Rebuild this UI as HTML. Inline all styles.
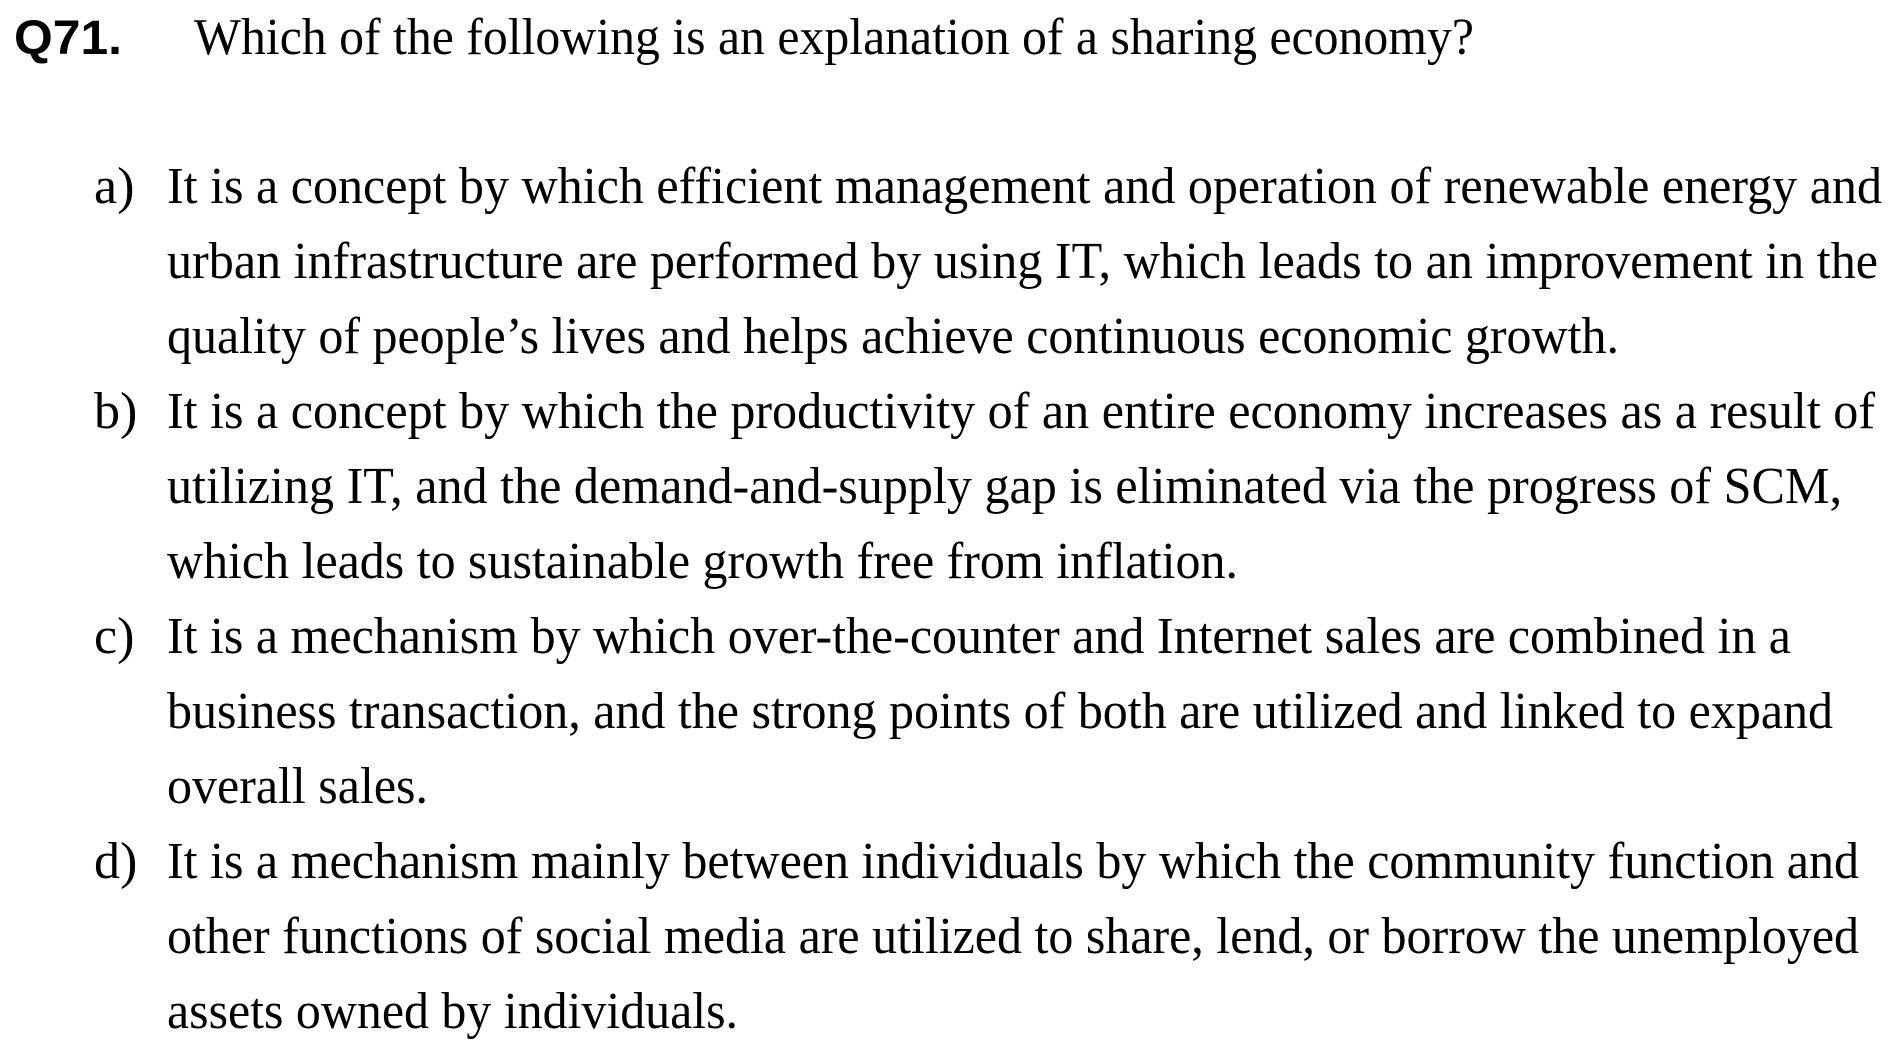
<!DOCTYPE html>
<html><head><meta charset="utf-8"><style>
html,body{margin:0;padding:0;background:#fff;width:1898px;height:1054px;overflow:hidden}
svg text{font-family:"Liberation Serif",serif;fill:#000}
</style></head><body>
<svg width="1898" height="1054" viewBox="0 0 1898 1054">
<text x="14" y="54" font-family="Liberation Sans, sans-serif" font-weight="bold" font-size="48" textLength="108" lengthAdjust="spacingAndGlyphs" style="font-family:'Liberation Sans',sans-serif">Q71.</text>
<text x="194" y="54" font-size="52" textLength="1280" lengthAdjust="spacingAndGlyphs">Which of the following is an explanation of a sharing economy?</text>
<g>
<text x="94" y="203" font-size="52">a)</text>
<text x="167" y="203" font-size="52" textLength="1715" lengthAdjust="spacingAndGlyphs">It is a concept by which efficient management and operation of renewable energy and</text>
<text x="167" y="278" font-size="52" textLength="1711" lengthAdjust="spacingAndGlyphs">urban infrastructure are performed by using IT, which leads to an improvement in the</text>
<text x="167" y="353" font-size="52" textLength="1452" lengthAdjust="spacingAndGlyphs">quality of people’s lives and helps achieve continuous economic growth.</text>
</g>
<g>
<text x="94" y="428" font-size="52">b)</text>
<text x="167" y="428" font-size="52" textLength="1708" lengthAdjust="spacingAndGlyphs">It is a concept by which the productivity of an entire economy increases as a result of</text>
<text x="167" y="503" font-size="52" textLength="1675" lengthAdjust="spacingAndGlyphs">utilizing IT, and the demand-and-supply gap is eliminated via the progress of SCM,</text>
<text x="167" y="578" font-size="52" textLength="1071" lengthAdjust="spacingAndGlyphs">which leads to sustainable growth free from inflation.</text>
</g>
<g>
<text x="94" y="653" font-size="52">c)</text>
<text x="167" y="653" font-size="52" textLength="1624" lengthAdjust="spacingAndGlyphs">It is a mechanism by which over-the-counter and Internet sales are combined in a</text>
<text x="167" y="728" font-size="52" textLength="1666" lengthAdjust="spacingAndGlyphs">business transaction, and the strong points of both are utilized and linked to expand</text>
<text x="167" y="803" font-size="52" textLength="261" lengthAdjust="spacingAndGlyphs">overall sales.</text>
</g>
<g>
<text x="94" y="878" font-size="52">d)</text>
<text x="167" y="878" font-size="52" textLength="1692" lengthAdjust="spacingAndGlyphs">It is a mechanism mainly between individuals by which the community function and</text>
<text x="167" y="953" font-size="52" textLength="1692" lengthAdjust="spacingAndGlyphs">other functions of social media are utilized to share, lend, or borrow the unemployed</text>
<text x="167" y="1028" font-size="52" textLength="571" lengthAdjust="spacingAndGlyphs">assets owned by individuals.</text>
</g>
</svg>
</body></html>
